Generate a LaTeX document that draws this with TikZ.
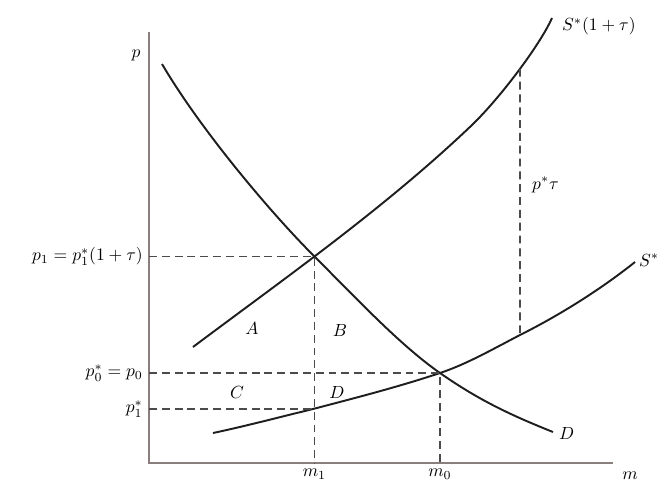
\documentclass[tikz,border=0pt]{standalone}
\usetikzlibrary{arrows.meta,intersections}
\definecolor{ink}{HTML}{1E1E1E}
\definecolor{axisgray}{HTML}{8A7F7C}

\begin{document}
\begin{tikzpicture}[x=0.02cm,y=-0.02cm,>=Stealth,font=\normalsize,
  curve/.style={ink,line width=1.1pt},
  guide/.style={ink!80,line width=0.9pt,dash pattern=on 4.5pt off 2.8pt}]
  \useasboundingbox (0,0) rectangle (660,491);
  % axes
  \coordinate (O) at (149,463);
  \coordinate (ytop) at (149,32);
  \coordinate (xend) at (613,463);
  \draw[axisgray,line width=0.8pt] (ytop)--(O)--(xend);
  \node (plab) at (136,55) {$p$};
  \node (mlab) at (630,476) {$m$};
  % curves
  \draw[curve,name path=dem] (162,64) .. controls (202,132) and (273,215) .. (313,255)
    .. controls (358,300) and (400,345) .. (440,373)
    .. controls (480,401) and (513,416) .. (553,432);
  \draw[curve,name path=stax] (193,347) .. controls (283,279.5) and (385,208) .. (472,125)
    .. controls (500,98) and (540,45) .. (552,18);
  \draw[curve,name path=sup] (213,433) .. controls (246,426) and (280,417) .. (313,409)
    .. controls (355,398) and (398,387) .. (440,373)
    .. controls (467,364) and (493,349) .. (520,335)
    .. controls (558,316) and (600,290) .. (635,262);
  \path[name path=vtax] (520,0) -- (520,491);
  \path[name path=vone] (313,0) -- (313,491);
  % equilibria
  \path[name intersections={of=dem and stax,by=E1}];
  \path[name intersections={of=dem and sup,by=E0}];
  \path[name intersections={of=vone and sup,by=F1}];
  \path[name intersections={of=vtax and stax,by=T1}];
  \path[name intersections={of=vtax and sup,by=T0}];
  \node[right] (Dlab) at (553,433) {$D$};
  \node[anchor=west] (Stlab) at (556,26) {$S^*(1+\tau)$};
  \node[right] (Slab) at (633,260) {$S^*$};
  % dashed guides
  \draw[guide] (O|-E1) -- (E1) -- (E1|-O);
  \draw[guide] (O|-E0) -- (E0) -- (E0|-O);
  \draw[guide] (O|-F1) -- (F1);
  \draw[guide] (T1) -- (T0);
  \node[left] (p1lab) at (O|-E1) {$p_1=p_1^*(1+\tau)$};
  \node[left] (p0lab) at (O|-E0) {$p_0^*=p_0$};
  \node[left] (p1slab) at (O|-F1) {$p_1^*$};
  \node[below] (m1lab) at (E1|-O) {$m_1$};
  \node[below] (m0lab) at (E0|-O) {$m_0$};
  \node[anchor=west] (taulab) at (526,185) {$p^*\tau$};
  % areas
  \node (areaA) at (252,328) {$A$};
  \node (areaB) at (340,330) {$B$};
  \node (areaC) at (237,392) {$C$};
  \node (areaD) at (337,392) {$D$};
\end{tikzpicture}
\end{document}
